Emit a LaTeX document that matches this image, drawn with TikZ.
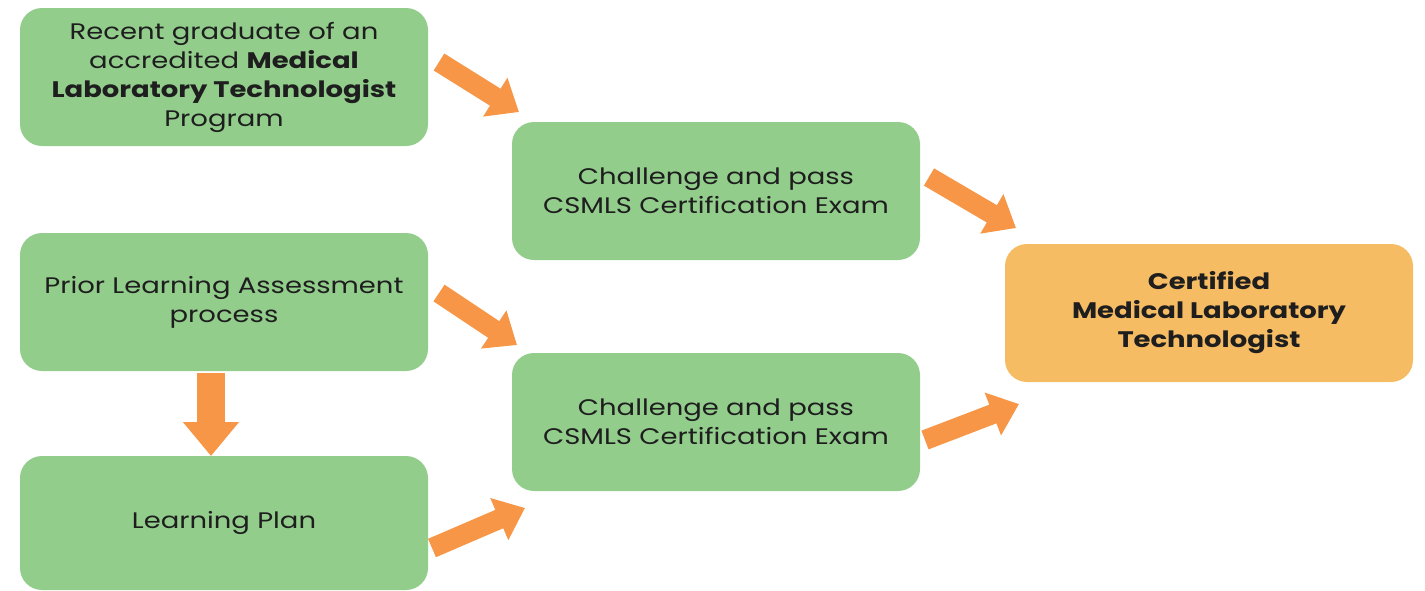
\documentclass[tikz,border=0pt]{standalone}
\usepackage{fontspec}
\setmainfont[FakeStretch=1.22]{Poppins}
\usetikzlibrary{arrows.meta}
\definecolor{boxgreen}{RGB}{146,205,140}
\definecolor{boxorange}{RGB}{246,188,100}
\definecolor{arroworange}{RGB}{246,150,70}
\definecolor{txt}{RGB}{30,30,30}
\begin{document}
\begin{tikzpicture}[x=1pt,y=-1pt,
  box/.style={rectangle, rounded corners=22pt, fill=boxgreen, draw=none,
    minimum width=408pt, minimum height=138pt, align=center,
    text=txt, font=\fontsize{22.5}{29}\selectfont, inner sep=0pt},
  finalbox/.style={box, fill=boxorange},
  blockarrow/.style={draw=arroworange, line width=20pt,
    -{Triangle[width=44pt,length=28pt]}, arroworange},
  downarrow/.style={draw=arroworange, line width=28pt,
    -{Triangle[width=54pt,length=34pt]}, arroworange}]
\useasboundingbox (0,0) rectangle (1425,590);
\node[box] (A) at (224,77) {Recent graduate of an\\accredited \textbf{Medical}\\\textbf{Laboratory Technologist}\\Program};
\node[box] (B) at (224,302) {Prior Learning Assessment\\process};
\node[box, minimum height=134pt] (C) at (224,523) {Learning Plan};
\node[box] (D) at (716,191) {Challenge and pass\\CSMLS Certification Exam};
\node[box] (E) at (716,422) {Challenge and pass\\CSMLS Certification Exam};
\node[finalbox] (F) at (1209,313) {\textbf{Certified}\\\textbf{Medical Laboratory}\\\textbf{Technologist}};
% arrow end points
\coordinate (a1s) at (439,62);
\coordinate (a1e) at (519,112);
\coordinate (a2s) at (929,177);
\coordinate (a2e) at (1016,228);
\coordinate (a3s) at (439,293);
\coordinate (a3e) at (517,345);
\coordinate (a4s) at (211,373);
\coordinate (a4e) at (211,456);
\coordinate (a5s) at (432,548);
\coordinate (a5e) at (525,508);
\coordinate (a6s) at (925,440);
\coordinate (a6e) at (1019,404);
\draw[blockarrow] (a1s) -- (a1e);
\draw[blockarrow] (a2s) -- (a2e);
\draw[blockarrow] (a3s) -- (a3e);
\draw[downarrow] (a4s) -- (a4e);
\draw[blockarrow] (a5s) -- (a5e);
\draw[blockarrow] (a6s) -- (a6e);
\end{tikzpicture}
\end{document}
